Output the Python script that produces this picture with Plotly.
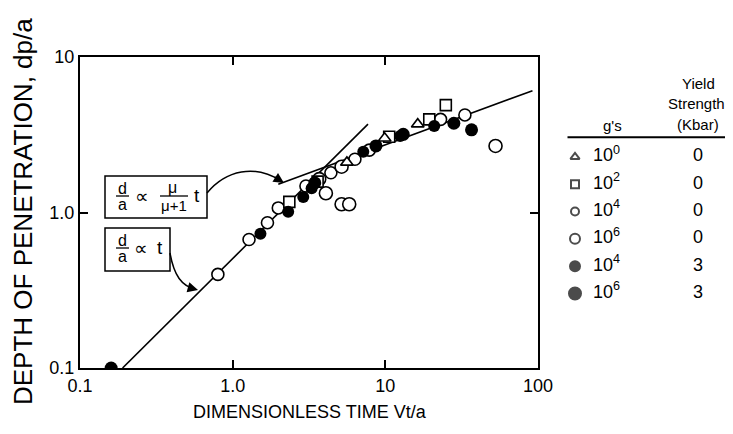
import plotly.graph_objects as go

# ---------------- data ----------------
tri_x = [5.6, 9.9, 16.3]
tri_y = [2.1, 3.0, 3.7]

sq_x = [2.35, 3.6, 10.6, 19.4, 24.9]
sq_y = [1.17, 1.58, 3.07, 3.97, 4.9]

open4_x = [0.80, 1.28, 1.69, 1.99, 3.02, 4.40, 6.32, 7.85, 23.0, 33.2]
open4_y = [0.40, 0.67, 0.86, 1.07, 1.48, 1.80, 2.20, 2.52, 3.97, 4.24]

open6_x = [3.69, 4.08, 5.17, 5.80, 5.17, 52.7]
open6_y = [1.64, 1.33, 1.13, 1.13, 1.97, 2.68]

fill4_x = [1.52, 2.31, 2.90, 3.29, 7.17, 12.5, 20.9]
fill4_y = [0.73, 1.01, 1.26, 1.43, 2.46, 3.10, 3.60]

fill6_x = [0.16, 3.45, 8.68, 13.1, 28.1, 36.7]
fill6_y = [0.10, 1.55, 2.68, 3.18, 3.75, 3.40]

# fitted lines
line_t_x = [0.19, 7.7]
line_t_y = [0.10, 3.7]
line_mu_x = [1.99, 92.0]
line_mu_y = [1.52, 6.07]

x_ticks = [0.1, 1, 10, 100]
x_ticktext = ["0.1", "1.0", "10", "100"]
y_ticks = [0.1, 1, 10]
y_ticktext = ["0.1", "1.0", "10"]

legend_gs = ["10<sup>0</sup>", "10<sup>2</sup>", "10<sup>4</sup>", "10<sup>6</sup>", "10<sup>4</sup>", "10<sup>6</sup>"]
legend_ys = ["0", "0", "0", "0", "3", "3"]
legend_symbols = ["triangle-up-open", "square-open", "circle-open", "circle-open", "circle", "circle"]
legend_sizes = [8, 8, 8, 10, 10, 12]

# ---------------- figure ----------------
# the page has an 8px body margin, so the figure is made 8px smaller
OFF = 8
W, H = 733 - OFF, 434 - OFF
L, R, T, B = 80 - OFF, 0, 57 - OFF, 66
PW = W - L - R
PH = H - T - B
main_right = 538 - OFF


def px(xp):  # window pixel -> paper x
    return (xp - OFF - L) / PW


def py(yp):  # window pixel -> paper y
    return (H - B - (yp - OFF)) / PH


FONT = "Liberation Sans"
fig = go.Figure()

line_style = dict(color="black", width=1.6)
fig.add_trace(go.Scatter(x=line_t_x, y=line_t_y, mode="lines", line=line_style, hoverinfo="skip"))
fig.add_trace(go.Scatter(x=line_mu_x, y=line_mu_y, mode="lines", line=line_style, hoverinfo="skip"))

mk_open = dict(color="white", line=dict(color="black", width=1.6))
fig.add_trace(go.Scatter(x=open4_x, y=open4_y, mode="markers",
                         marker=dict(symbol="circle", size=12, **mk_open)))
fig.add_trace(go.Scatter(x=open6_x, y=open6_y, mode="markers",
                         marker=dict(symbol="circle", size=13, **mk_open)))
fig.add_trace(go.Scatter(x=sq_x, y=sq_y, mode="markers",
                         marker=dict(symbol="square", size=11, **mk_open)))
fig.add_trace(go.Scatter(x=tri_x, y=tri_y, mode="markers",
                         marker=dict(symbol="triangle-up", size=11, **mk_open)))
fig.add_trace(go.Scatter(x=fill4_x, y=fill4_y, mode="markers",
                         marker=dict(symbol="circle", size=12, color="black")))
fig.add_trace(go.Scatter(x=fill6_x, y=fill6_y, mode="markers",
                         marker=dict(symbol="circle", size=13, color="black")))

# legend table on a second, hidden axis pair
rows = list(range(len(legend_gs)))
fig.add_trace(go.Scatter(
    x=[0] * len(rows), y=rows, mode="markers", xaxis="x2", yaxis="y2",
    marker=dict(symbol=legend_symbols, size=legend_sizes, color="black",
                line=dict(color="black", width=2))))
fig.add_trace(go.Scatter(
    x=[2.1] * len(rows), y=rows, mode="text", text=legend_gs, xaxis="x2", yaxis="y2",
    textfont=dict(family=FONT, size=18, color="black")))
fig.add_trace(go.Scatter(
    x=[8.2] * len(rows), y=rows, mode="text", text=legend_ys, xaxis="x2", yaxis="y2",
    textfont=dict(family=FONT, size=18, color="black")))

annotations = []
shapes = []

# legend header
for txt_, xv, yv in [("g's", 2.5, -1.15), ("Yield", 8.2, -2.7), ("Strength", 8.1, -1.95), ("(Kbar)", 8.2, -1.2)]:
    annotations.append(dict(text=txt_, x=xv, y=yv, xref="x2", yref="y2", showarrow=False,
                            xanchor="center", yanchor="middle",
                            font=dict(family=FONT, size=15, color="black")))
shapes.append(dict(type="line", xref="x2", yref="y2", x0=-0.5, x1=10.6, y0=-0.72, y1=-0.72,
                   line=dict(color="black", width=2)))

# formula boxes
shapes.append(dict(type="rect", xref="paper", yref="paper", x0=px(105), x1=px(207), y0=py(218), y1=py(176),
                   line=dict(color="black", width=1.5), fillcolor="white", layer="above"))
shapes.append(dict(type="rect", xref="paper", yref="paper", x0=px(105), x1=px(170), y0=py(271), y1=py(228),
                   line=dict(color="black", width=1.5), fillcolor="white", layer="above"))


def txt(t, x, y, size=15):
    annotations.append(dict(text=t, x=px(x), y=py(y), xref="paper", yref="paper", showarrow=False,
                            xanchor="center", yanchor="middle",
                            font=dict(family=FONT, size=size, color="black")))


def bar(x0, x1, y):
    shapes.append(dict(type="line", xref="paper", yref="paper", x0=px(x0), x1=px(x1), y0=py(y), y1=py(y),
                       line=dict(color="black", width=1.3), layer="above"))


# box 1: d/a ∝ μ/(μ+1) t
txt("d", 122, 188, 16); bar(116, 129, 196); txt("a", 122, 204, 16)
txt("∝", 142, 196, 19)
txt("μ", 172, 187, 16); bar(160, 188, 196); txt("μ+1", 174, 205, 15)
txt("t", 197, 195, 19)
# box 2: d/a ∝ t
txt("d", 122, 240, 16); bar(116, 129, 248); txt("a", 122, 256, 16)
txt("∝", 141, 248, 19)
txt("t", 160, 247, 19)

# axis titles
annotations.append(dict(text="DIMENSIONLESS TIME Vt/a", x=px(310), y=py(412), xref="paper", yref="paper",
                        showarrow=False, xanchor="center", yanchor="middle",
                        font=dict(family=FONT, size=18, color="black")))
annotations.append(dict(text="DEPTH OF PENETRATION, dp/a", x=px(23), y=py(212), xref="paper", yref="paper",
                        showarrow=False, xanchor="center", yanchor="middle", textangle=-90,
                        font=dict(family=FONT, size=26, color="black")))


def path_pts(pts):
    (x0, y0), (c1x, c1y), (c2x, c2y), (x1, y1) = pts
    return "M {} {} C {} {}, {} {}, {} {}".format(px(x0), py(y0), px(c1x), py(c1y), px(c2x), py(c2y),
                                                   px(x1), py(y1))


shapes.append(dict(type="path", xref="paper", yref="paper",
                   path=path_pts([(207, 193), (226, 170), (255, 164), (281, 181)]),
                   line=dict(color="black", width=1.5)))
shapes.append(dict(type="path", xref="paper", yref="paper",
                   path=path_pts([(170, 253), (174, 276), (182, 286), (195, 289)]),
                   line=dict(color="black", width=1.5)))
annotations.append(dict(x=px(284), y=py(183), xref="paper", yref="paper", ax=-11, ay=-7, text="",
                        showarrow=True, arrowhead=2, arrowsize=1.3, arrowwidth=1.6, arrowcolor="black"))
annotations.append(dict(x=px(198), y=py(290), xref="paper", yref="paper", ax=-11, ay=-3, text="",
                        showarrow=True, arrowhead=2, arrowsize=1.3, arrowwidth=1.6, arrowcolor="black"))

axis_common = dict(showline=True, linecolor="black", linewidth=2, mirror="ticks", showgrid=False,
                   zeroline=False, ticks="inside", ticklen=8, tickwidth=2, tickcolor="black",
                   tickfont=dict(family=FONT, size=18, color="black"))

fig.update_layout(
    width=W, height=H,
    margin=dict(l=L, r=R, t=T, b=B, autoexpand=False),
    paper_bgcolor="white", plot_bgcolor="white",
    showlegend=False,
    shapes=shapes,
    annotations=annotations,
    xaxis=dict(type="log", range=[-1, 2], domain=[0, (main_right - OFF - L) / PW + OFF / PW],
               tickvals=x_ticks, ticktext=x_ticktext, **axis_common),
    yaxis=dict(type="log", range=[-1, 1], tickvals=y_ticks, ticktext=y_ticktext, **axis_common),
    xaxis2=dict(domain=[(560 - OFF - L) / PW, 1], range=[-1, 10.53], visible=False, anchor="y2"),
    yaxis2=dict(domain=[0, 1], range=[7.73, -3.66], visible=False, anchor="x2"),
)

fig.write_html("out.html")
